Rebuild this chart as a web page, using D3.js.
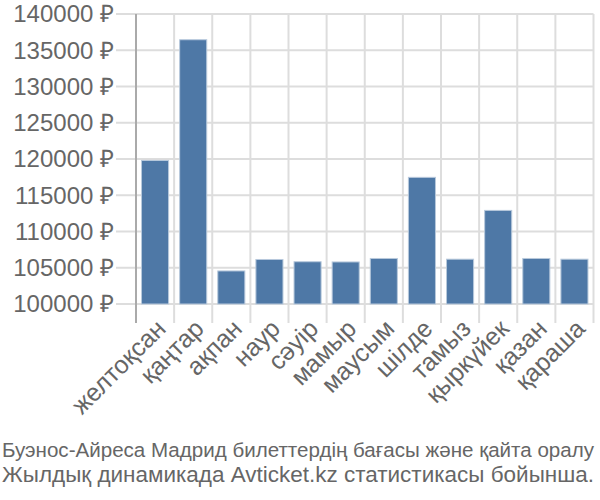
<!DOCTYPE html>
<html><head><meta charset="utf-8">
<script src="https://cdn.jsdelivr.net/npm/d3@7"></script>
<style>body{margin:0;background:#fff}svg{display:block}</style>
</head><body>
<svg id="c" width="600" height="500"></svg>
<script>
const categories = ["желтоқсан","қаңтар","ақпан","наур","сәуір","мамыр","маусым","шілде","тамыз","қыркүйек","қазан","қараша"];
const values = [119800,136450,104560,106140,105830,105800,106280,117470,106180,112910,106280,106180];
const yTicks = [100000,105000,110000,115000,120000,125000,130000,135000,140000];
const titleLines = ["Буэнос-Айреса Мадрид билеттердің бағасы және қайта оралу","Жылдық динамикада Avticket.kz статистикасы бойынша."];

(function () {
const svg = d3.select("#c");
const mL = 136, mR = 593.5, mT = 14, mB = 304;
const font = "'Liberation Sans', Arial, sans-serif";
const x = d3.scaleBand().domain(categories).range([mL, mR]).paddingInner(0.29).paddingOuter(0.145);
const y = d3.scaleLinear().domain([100000, 140000]).range([mB, mT]);
const step = x.step();

// horizontal grid
svg.append("g").selectAll("line").data(yTicks).join("line")
  .attr("x1", mL - 20).attr("x2", mR).attr("y1", d => y(d)).attr("y2", d => y(d))
  .attr("stroke", "#dddddd").attr("stroke-width", 2);
// vertical grid
const bounds = d3.range(categories.length + 1).map(i => mL + i * step);
svg.append("g").selectAll("line").data(bounds.slice(1)).join("line")
  .attr("x1", d => d).attr("x2", d => d).attr("y1", mT).attr("y2", mB + 19)
  .attr("stroke", "#dddddd").attr("stroke-width", 2);
// left axis line
svg.append("line").attr("x1", mL).attr("x2", mL).attr("y1", mT).attr("y2", mB + 19)
  .attr("stroke", "#aaaaaa").attr("stroke-width", 2);

// bars
svg.append("g").selectAll("rect").data(values).join("rect")
  .attr("x", (d, i) => x(categories[i]))
  .attr("width", x.bandwidth())
  .attr("y", d => y(d))
  .attr("height", d => y(100000) - y(d))
  .attr("fill", "#4e78a6").attr("stroke", "#b8c9dc").attr("stroke-width", 1);

// y labels
svg.append("g").selectAll("text").data(yTicks).join("text")
  .attr("x", 114).attr("y", d => y(d)).attr("dy", "0.35em")
  .attr("text-anchor", "end").attr("font-family", font).attr("font-size", 24).attr("fill", "#666666")
  .text(d => d + " ₽");

// x labels
svg.append("g").selectAll("text").data(categories).join("text")
  .attr("transform", d => `translate(${x(d) + x.bandwidth() / 2 + 6},${mB + 20}) rotate(-45)`)
  .attr("text-anchor", "end").attr("dy", "0.35em")
  .attr("font-family", font).attr("font-size", 25).attr("fill", "#666666")
  .text(d => d);

// title
svg.append("g").selectAll("text").data(titleLines).join("text")
  .attr("x", 2).attr("y", (d, i) => 457 + i * 25)
  .attr("textLength", 592).attr("lengthAdjust", "spacingAndGlyphs")
  .attr("font-family", font).attr("font-size", (d, i) => i === 0 ? 20.5 : 22).attr("fill", "#666666")
  .text(d => d);
})();
</script>
</body></html>
